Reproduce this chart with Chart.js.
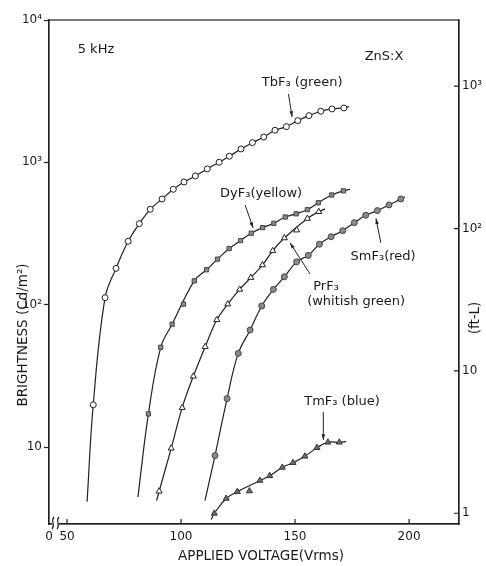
<!DOCTYPE html>
<html>
<head>
<meta charset="utf-8">
<script src="https://cdn.jsdelivr.net/npm/chart.js@4/dist/chart.umd.min.js"></script>
<style>
  html, body { margin: 0; padding: 0; background: #fff; }
  canvas { display: block; }
</style>
</head>
<body>
<canvas id="chart" width="486" height="566"></canvas>
<script>
// applied voltage (Vrms) and brightness (cd/m2)
const tbV = [61.5, 66.7, 71.5, 76.8, 81.7, 86.5, 91.7, 96.6, 101.3, 106.3, 111.5, 116.7, 121.2, 126.3, 131.3, 136.3, 141.2, 146.2, 151.2, 156.1, 161.3, 166.2, 171.4];
const tbB = [19.8, 112, 180, 279, 371, 468, 553, 647, 728, 802, 899, 1002, 1104, 1242, 1375, 1507, 1681, 1782, 1964, 2130, 2287, 2372, 2410];
const tbEnds = [[58.8, 4.13], [173.7, 2466]];

const dyV = [85.7, 91.1, 96.1, 101.1, 105.8, 111.2, 116.0, 121.1, 126.1, 130.8, 135.8, 140.7, 145.7, 150.5, 155.4, 160.2, 166.1, 171.2];
const dyB = [17.1, 50.2, 72.9, 101, 147, 176, 209, 248, 282, 318, 348, 373, 413, 435, 465, 520, 590, 631];
const dyEnds = [[81.1, 4.46], [174.1, 647]];
const dyOff = [3];

const prV = [90.4, 95.7, 100.5, 105.4, 110.6, 115.7, 120.5, 125.7, 130.6, 135.7, 140.2, 145.3, 150.7, 155.4, 160.4];
const prB = [4.89, 9.8, 18.9, 31.4, 50.7, 78.3, 101, 128, 155, 190, 239, 294, 334, 403, 450];
const prEnds = [[89.3, 4.2], [163.2, 471]];
const prOff = [12];

const smV = [114.9, 120.2, 125.1, 130.3, 135.4, 140.5, 145.3, 150.7, 155.8, 160.7, 165.8, 170.9, 176.0, 181.0, 186.1, 191.2, 196.4];
const smB = [8.71, 21.9, 45.5, 66.4, 98, 128, 157, 200, 222, 266, 300, 331, 377, 425, 458, 502, 553];
const smEnds = [[110.5, 4.2], [198.2, 574]];

const tmV = [114.6, 119.8, 124.7, 130.0, 134.6, 138.9, 144.4, 149.1, 154.3, 159.6, 164.4, 169.4];
const tmB = [3.42, 4.35, 4.86, 4.91, 5.82, 6.28, 7.19, 7.76, 8.61, 9.89, 10.8, 10.8];
const tmEnds = [[113.2, 3.1], [172.4, 10.9]];
const tmOff = [3];

// axis ticks
const xTicks = [50, 100, 150, 200];
const yTicks = [10, 100, 1000, 10000];
const yLabels = ['10', '10²', '10³', '10⁴'];
const ftTicks = [1, 10, 100, 1000];
const ftLabels = ['1', '10', '10²', '10³'];
const CD_PER_FTL = 3.426;
const X_MIN = 42.1, X_MAX = 221.9, Y_MIN = 2.88, Y_MAX = 10000;

// labels and arrows, placed in data units
const notes = [
  { text: '5 kHz', v: 62.7, b: 6166 },
  { text: 'ZnS:X', v: 189.0, b: 5508 },
  { text: 'TbF₃ (green)', v: 153.1, b: 3614 },
  { text: 'DyF₃(yellow)', v: 135.1, b: 600 },
  { text: 'PrF₃', v: 163.6, b: 133 },
  { text: '(whitish green)', v: 176.8, b: 104.5 },
  { text: 'SmF₃(red)', v: 188.6, b: 216 },
  { text: 'TmF₃ (blue)', v: 170.6, b: 20.7 }
];
const arrows = [
  [[147.1, 3027], [148.7, 2084]],
  [[128.1, 502], [131.6, 346]],
  [[156.6, 164], [147.8, 272]],
  [[187.6, 272], [185.5, 404]],
  [[162.4, 17.6], [162.4, 11.2]]
];

const ink = '#222';

function pts(vs, bs) {
  return vs.map((v, i) => ({ x: v, y: bs[i] }));
}
function curve(vs, bs, ends, off) {
  const skip = off || [];
  const mid = pts(vs, bs).filter((p, i) => !skip.includes(i));
  return [{ x: ends[0][0], y: ends[0][1] }, ...mid, { x: ends[1][0], y: ends[1][1] }];
}
function lineSet(data) {
  return {
    data: data, showLine: true, pointRadius: 0, borderColor: ink,
    borderWidth: 1.2, tension: 0.4, order: 2
  };
}
function markSet(data, style, fill, edge, r) {
  return {
    data: data, showLine: false, pointStyle: style, pointRadius: r,
    backgroundColor: fill, borderColor: edge, borderWidth: 1, order: 1
  };
}

const decor = {
  id: 'decor',
  afterDraw(chart) {
    const ctx = chart.ctx;
    const a = chart.chartArea;
    const xs = chart.scales.x, ys = chart.scales.y, y2 = chart.scales.y2;
    ctx.save();
    ctx.strokeStyle = ink;
    ctx.lineWidth = 1.2;
    ctx.strokeRect(a.left, a.top, a.right - a.left, a.bottom - a.top);

    // inward ticks on x and right axes
    ctx.beginPath();
    xTicks.forEach(v => {
      const px = xs.getPixelForValue(v);
      ctx.moveTo(px, a.bottom); ctx.lineTo(px, a.bottom - 5);
    });
    ftTicks.forEach(v => {
      const py = y2.getPixelForValue(v);
      ctx.moveTo(a.right, py); ctx.lineTo(a.right - 5, py);
    });
    ctx.stroke();

    // axis break
    ctx.fillStyle = '#fff';
    ctx.fillRect(a.left + 3, a.bottom - 2, 7, 4);
    ctx.beginPath();
    [a.left + 4, a.left + 9].forEach(bx => {
      ctx.moveTo(bx + 1, a.bottom - 7);
      ctx.bezierCurveTo(bx - 3, a.bottom - 3, bx + 3, a.bottom + 1, bx - 1, a.bottom + 5);
    });
    ctx.stroke();

    // arrows
    ctx.lineWidth = 1;
    arrows.forEach(([f, t]) => {
      const x1 = xs.getPixelForValue(f[0]), y1 = ys.getPixelForValue(f[1]);
      const x2 = xs.getPixelForValue(t[0]), y2p = ys.getPixelForValue(t[1]);
      const ang = Math.atan2(y2p - y1, x2 - x1);
      ctx.beginPath();
      ctx.moveTo(x1, y1); ctx.lineTo(x2, y2p);
      ctx.stroke();
      ctx.beginPath();
      ctx.moveTo(x2, y2p);
      ctx.lineTo(x2 - 6 * Math.cos(ang - 0.3), y2p - 6 * Math.sin(ang - 0.3));
      ctx.lineTo(x2 - 6 * Math.cos(ang + 0.3), y2p - 6 * Math.sin(ang + 0.3));
      ctx.closePath();
      ctx.fillStyle = ink;
      ctx.fill();
    });

    // text labels
    ctx.fillStyle = '#1a1a1a';
    ctx.font = '13px "DejaVu Sans"';
    ctx.textAlign = 'center';
    ctx.textBaseline = 'middle';
    notes.forEach(n => {
      ctx.fillText(n.text, xs.getPixelForValue(n.v), ys.getPixelForValue(n.b));
    });

    // axis titles
    ctx.font = '13.5px "DejaVu Sans"';
    ctx.fillText('APPLIED VOLTAGE(Vrms)', (a.left + a.right) / 2 + 7, a.bottom + 32);
    ctx.save();
    ctx.translate(23, 335);
    ctx.rotate(-Math.PI / 2);
    ctx.fillText('BRIGHTNESS (Cd/m²)', 0, 0);
    ctx.restore();
    ctx.save();
    ctx.translate(a.right + 16, 318);
    ctx.rotate(-Math.PI / 2);
    ctx.fillText('(ft-L)', 0, 0);
    ctx.restore();
    ctx.restore();
  }
};

Chart.defaults.font.family = '"DejaVu Sans", sans-serif';
Chart.defaults.color = '#1a1a1a';

new Chart(document.getElementById('chart'), {
  type: 'scatter',
  data: {
    datasets: [
      lineSet(curve(tbV, tbB, tbEnds)),
      lineSet(curve(dyV, dyB, dyEnds, dyOff)),
      lineSet(curve(prV, prB, prEnds, prOff)),
      lineSet(curve(smV, smB, smEnds)),
      lineSet(curve(tmV, tmB, tmEnds, tmOff)),
      markSet(pts(tbV, tbB), 'circle', '#fff', ink, 3),
      markSet(pts(dyV, dyB), 'rect', '#8a8a8a', '#444', 3),
      markSet(pts(prV, prB), 'triangle', '#fff', ink, 3.5),
      markSet(pts(smV, smB), 'circle', '#8a8a8a', '#444', 3),
      markSet(pts(tmV, tmB), 'triangle', '#707070', '#333', 3.5)
    ]
  },
  options: {
    responsive: false,
    animation: false,
    layout: { padding: { top: 20, left: 0, right: 0, bottom: 0 } },
    plugins: { legend: { display: false }, tooltip: { enabled: false } },
    scales: {
      x: {
        type: 'linear', min: X_MIN, max: X_MAX,
        afterBuildTicks: s => { s.ticks = [X_MIN, ...xTicks].map(v => ({ value: v })); },
        afterFit: s => { s.height = 42; },
        ticks: {
          autoSkip: false, maxRotation: 0, padding: 6, font: { size: 12 },
          callback: v => (v === X_MIN ? '0' : String(v))
        },
        grid: { display: false, drawTicks: false },
        border: { display: true, color: ink, width: 1.2 }
      },
      y: {
        type: 'logarithmic', position: 'left', min: Y_MIN, max: Y_MAX,
        afterBuildTicks: s => { s.ticks = yTicks.map(v => ({ value: v })); },
        afterFit: s => { s.width = 49; },
        ticks: {
          autoSkip: false, padding: 2, font: { size: 12 },
          callback: v => yLabels[yTicks.indexOf(v)] || ''
        },
        grid: { drawOnChartArea: false, tickLength: 5, color: ink, tickWidth: 1.2 },
        border: { display: true, color: ink, width: 1.2 }
      },
      y2: {
        type: 'logarithmic', position: 'right',
        min: Y_MIN / CD_PER_FTL, max: Y_MAX / CD_PER_FTL,
        afterBuildTicks: s => { s.ticks = ftTicks.map(v => ({ value: v })); },
        afterFit: s => { s.width = 27; },
        ticks: {
          autoSkip: false, padding: 3, font: { size: 12 },
          callback: v => ftLabels[ftTicks.indexOf(v)] || ''
        },
        grid: { display: false, drawTicks: false },
        border: { display: true, color: ink, width: 1.2 }
      }
    }
  },
  plugins: [decor]
});
</script>
</body>
</html>
